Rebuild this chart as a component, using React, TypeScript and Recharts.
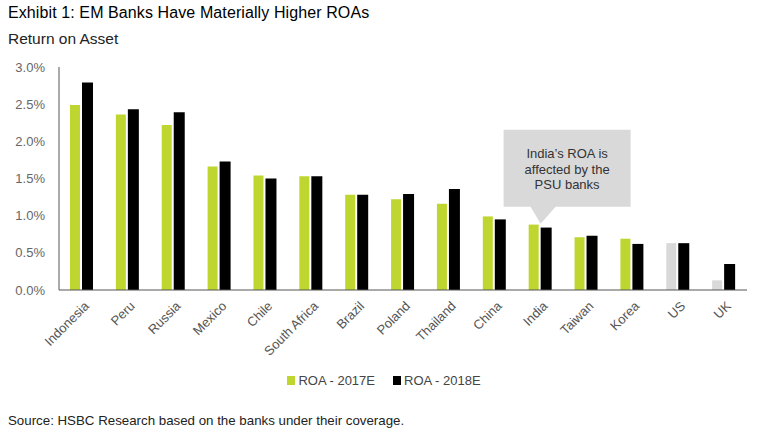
import React from 'react'
import { BarChart, Bar, XAxis, YAxis, Cell, Legend, ReferenceDot } from 'recharts'

const countries = [
  'Indonesia', 'Peru', 'Russia', 'Mexico', 'Chile', 'South Africa', 'Brazil', 'Poland',
  'Thailand', 'China', 'India', 'Taiwan', 'Korea', 'US', 'UK',
]
const roa2017 = [2.49, 2.36, 2.22, 1.66, 1.54, 1.53, 1.28, 1.22, 1.16, 0.99, 0.88, 0.71, 0.69, 0.63, 0.13]
const roa2018 = [2.79, 2.43, 2.39, 1.73, 1.5, 1.53, 1.28, 1.29, 1.36, 0.95, 0.84, 0.73, 0.62, 0.63, 0.35]
const greyed = ['US', 'UK']
const yTicks = [0, 0.5, 1, 1.5, 2, 2.5, 3]

const GREEN = '#bed62f'
const BLACK = '#000000'
const GREY = '#d9d9d9'
const FONT = '"Liberation Sans", Arial, sans-serif'

const data = countries.map((c, i) => ({ country: c, r17: roa2017[i], r18: roa2018[i] }))

function CountryTick(props: any) {
  const { x, y, payload } = props
  return (
    <g transform={`translate(${x + 5},${y + 6})`}>
      <text transform="rotate(-45)" textAnchor="end" dy={4} fontSize={13} fill="#555" fontFamily={FONT}>
        {payload.value}
      </text>
    </g>
  )
}

function Callout(props: any) {
  const { cx, cy } = props
  if (cx == null || cy == null) return null
  const left = cx - 37
  const right = cx + 90
  const top = cy - 94
  const bottom = cy - 17
  const path = `M${left},${top} H${right} V${bottom} H${cx + 15} L${cx},${cy} L${cx - 10},${bottom} H${left} Z`
  const mid = (left + right) / 2
  return (
    <g>
      <path d={path} fill={GREY} />
      <text x={mid} textAnchor="middle" fontSize={13} fill="#333" fontFamily={FONT}>
        <tspan x={mid} y={top + 28}>India’s ROA is</tspan>
        <tspan x={mid} y={top + 44}>affected by the</tspan>
        <tspan x={mid} y={top + 59}>PSU banks</tspan>
      </text>
    </g>
  )
}

function LegendContent() {
  const items = [
    { label: 'ROA - 2017E', color: GREEN },
    { label: 'ROA - 2018E', color: BLACK },
  ]
  return (
    <div style={{ display: 'flex', justifyContent: 'center', gap: 18, fontFamily: FONT, fontSize: 13, color: '#444' }}>
      {items.map((it) => (
        <div key={it.label} style={{ display: 'flex', alignItems: 'center', gap: 3 }}>
          <span style={{ width: 8, height: 9, background: it.color, display: 'inline-block' }} />
          <span>{it.label}</span>
        </div>
      ))}
    </div>
  )
}

export default function App() {
  return (
    <div style={{ position: 'absolute', left: 0, top: 0, width: 768, height: 432, background: '#fff', fontFamily: FONT }}>
      <div style={{ position: 'absolute', left: 8, top: 4, fontSize: 16, color: '#000', letterSpacing: 0.1 }}>
        Exhibit 1: EM Banks Have Materially Higher ROAs
      </div>
      <div style={{ position: 'absolute', left: 8, top: 30, fontSize: 15.5, color: '#222' }}>Return on Asset</div>
      <BarChart
        width={768}
        height={432}
        data={data}
        margin={{ top: 67, right: 21, bottom: 0, left: 0 }}
        barGap={2}
        barCategoryGap={0}
      >
        <YAxis
          width={59}
          domain={[0, 3]}
          ticks={yTicks}
          interval={0}
          tickFormatter={(v: number) => `${v.toFixed(1)}%`}
          tickLine={false}
          axisLine={{ stroke: '#555' }}
          tick={{ fontSize: 13, fill: '#666', fontFamily: FONT }}
          tickMargin={8}
        />
        <XAxis
          dataKey="country"
          interval={0}
          tickLine={false}
          axisLine={{ stroke: '#555' }}
          tick={<CountryTick />}
          height={127}
        />
        <Bar dataKey="r17" name="ROA - 2017E" fill={GREEN} barSize={10} isAnimationActive={false}>
          {data.map((d) => (
            <Cell key={d.country} fill={greyed.includes(d.country) ? GREY : GREEN} />
          ))}
        </Bar>
        <Bar dataKey="r18" name="ROA - 2018E" fill={BLACK} barSize={11} isAnimationActive={false} />
        <ReferenceDot x="India" y={0.89} ifOverflow="visible" shape={<Callout />} />
        <Legend content={<LegendContent />} wrapperStyle={{ top: 373, left: 0, width: 768 }} />
      </BarChart>
      <div style={{ position: 'absolute', left: 8, top: 413, fontSize: 13.3, color: '#222' }}>
        Source: HSBC Research based on the banks under their coverage.
      </div>
    </div>
  )
}
